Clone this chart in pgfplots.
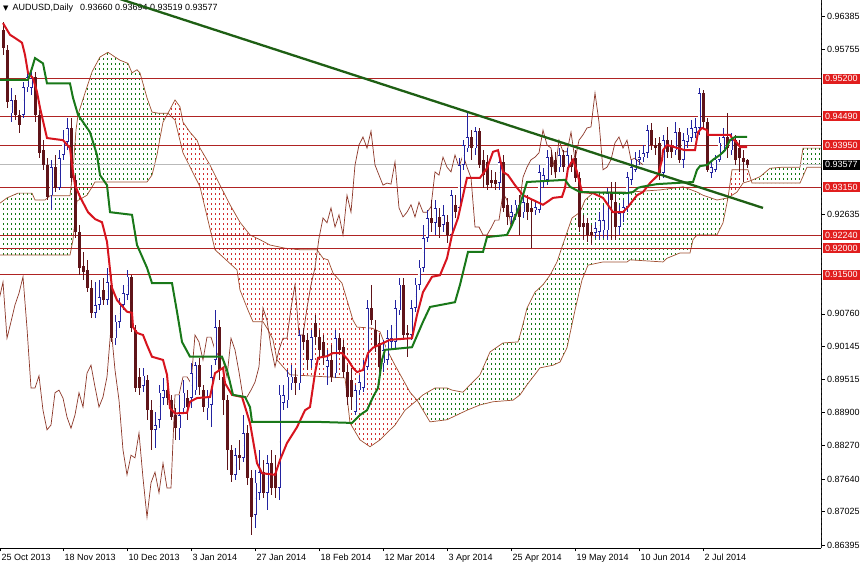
\documentclass[border=0pt]{standalone}
\usepackage{fontspec}
\setmainfont{Liberation Sans}
\newfontfamily\dejavu{DejaVu Sans}
\usepackage{pgfplots}
\usepackage{pgfplotstable}
\pgfplotsset{compat=1.18}

\definecolor{tenkan}{RGB}{215,20,30}
\definecolor{kijun}{RGB}{25,120,25}
\definecolor{trend}{RGB}{30,95,20}
\definecolor{spanc}{RGB}{160,80,50}
\definecolor{chikou}{RGB}{140,55,40}
\definecolor{hline}{RGB}{175,35,35}
\definecolor{boxred}{RGB}{225,30,30}
\definecolor{bullc}{RGB}{35,35,160}
\definecolor{bearc}{RGB}{95,20,25}
\definecolor{cloudg}{RGB}{20,120,20}
\definecolor{cloudr}{RGB}{210,45,45}

\newcommand{\lbl}{\fontsize{9bp}{10bp}\selectfont}

\pgfplotstableread{
i o h l c
0 0.9612 0.9627 0.9565 0.9578
1 0.9574 0.9584 0.9465 0.9476
2 0.9455 0.9503 0.9438 0.9480
3 0.9480 0.9489 0.9442 0.9452
4 0.9452 0.9461 0.9418 0.9433
5 0.9452 0.9514 0.9446 0.9504
6 0.9504 0.9531 0.9495 0.9523
7 0.9503 0.9537 0.9489 0.9521
8 0.9523 0.9533 0.9438 0.9452
9 0.9452 0.9461 0.9370 0.9380
10 0.9385 0.9404 0.9348 0.9357
11 0.9357 0.9370 0.9291 0.9297
12 0.9300 0.9367 0.9272 0.9353
13 0.9353 0.9376 0.9306 0.9314
14 0.9314 0.9385 0.9310 0.9370
15 0.9376 0.9423 0.9367 0.9401
16 0.9401 0.9446 0.9385 0.9427
17 0.9427 0.9446 0.9325 0.9333
18 0.9329 0.9338 0.9219 0.9231
19 0.9231 0.9244 0.9149 0.9163
20 0.9166 0.9193 0.9140 0.9155
21 0.9159 0.9178 0.9117 0.9125
22 0.9125 0.9140 0.9068 0.9078
23 0.9078 0.9136 0.9068 0.9093
24 0.9093 0.9140 0.9083 0.9108
25 0.9121 0.9144 0.9093 0.9102
26 0.9102 0.9163 0.9093 0.9136
27 0.9131 0.9149 0.9023 0.9030
28 0.9030 0.9074 0.9017 0.9061
29 0.9061 0.9106 0.9049 0.9093
30 0.9093 0.9131 0.9083 0.9115
31 0.9112 0.9159 0.9102 0.9146
32 0.9146 0.9149 0.9042 0.9049
33 0.9046 0.9055 0.8928 0.8936
34 0.8957 0.8974 0.8923 0.8936
35 0.8940 0.8974 0.8928 0.8959
36 0.8951 0.8961 0.8876 0.8894
37 0.8894 0.8913 0.8819 0.8857
38 0.8857 0.8891 0.8823 0.8866
39 0.8876 0.8942 0.8860 0.8927
40 0.8917 0.8955 0.8904 0.8932
41 0.8932 0.8947 0.8904 0.8917
42 0.8913 0.8923 0.8876 0.8881
43 0.8885 0.8898 0.8838 0.8860
44 0.8860 0.8923 0.8838 0.8885
45 0.8898 0.8951 0.8891 0.8927
46 0.8917 0.8932 0.8876 0.8900
47 0.8917 0.8983 0.8898 0.8964
48 0.8932 0.8985 0.8923 0.8979
49 0.8979 0.8993 0.8923 0.8938
50 0.8932 0.8942 0.8891 0.8900
51 0.8898 0.8932 0.8876 0.8919
52 0.8904 0.8979 0.8862 0.8957
53 0.8989 0.9083 0.8979 0.9051
54 0.9051 0.9064 0.8951 0.8970
55 0.8957 0.8970 0.8885 0.8913
56 0.8913 0.8923 0.8781 0.8819
57 0.8819 0.8828 0.8758 0.8772
58 0.8772 0.8823 0.8762 0.8809
59 0.8809 0.8838 0.8781 0.8804
60 0.8804 0.8885 0.8796 0.8851
61 0.8851 0.8866 0.8753 0.8766
62 0.8766 0.8781 0.8658 0.8692
63 0.8696 0.8781 0.8672 0.8757
64 0.8738 0.8819 0.8725 0.8777
65 0.8777 0.8800 0.8728 0.8738
66 0.8738 0.8809 0.8706 0.8794
67 0.8794 0.8819 0.8734 0.8747
68 0.8775 0.8809 0.8728 0.8747
69 0.8747 0.8942 0.8725 0.8923
70 0.8908 0.8942 0.8894 0.8923
71 0.8913 0.8970 0.8898 0.8957
72 0.8945 0.8979 0.8932 0.8957
73 0.8957 0.8970 0.8923 0.8945
74 0.8945 0.9046 0.8932 0.9036
75 0.9036 0.9049 0.9008 0.9023
76 0.9027 0.9040 0.8970 0.8989
77 0.8989 0.9046 0.8974 0.9032
78 0.9059 0.9074 0.9017 0.9032
79 0.9032 0.9046 0.8989 0.9008
80 0.9023 0.9036 0.8979 0.8995
81 0.8976 0.9008 0.8942 0.8989
82 0.8989 0.9017 0.8947 0.8957
83 0.8964 0.9046 0.8955 0.9030
84 0.9030 0.9040 0.8998 0.9008
85 0.9013 0.9027 0.8955 0.8966
86 0.8966 0.8979 0.8904 0.8919
87 0.8951 0.8974 0.8894 0.8919
88 0.8891 0.8942 0.8885 0.8932
89 0.8932 0.8961 0.8923 0.8947
90 0.8936 0.8989 0.8928 0.8976
91 0.8976 0.9102 0.8970 0.9087
92 0.9087 0.9131 0.9055 0.9064
93 0.9046 0.9064 0.9004 0.9013
94 0.9021 0.9036 0.8966 0.8976
95 0.8983 0.9027 0.8966 0.9008
96 0.8989 0.9046 0.8979 0.9030
97 0.9023 0.9055 0.9008 0.9030
98 0.9023 0.9102 0.9012 0.9087
99 0.9083 0.9144 0.9074 0.9131
100 0.9131 0.9144 0.9027 0.9036
101 0.9040 0.9055 0.8995 0.9036
102 0.9036 0.9102 0.9027 0.9087
103 0.9087 0.9144 0.9080 0.9131
104 0.9131 0.9178 0.9121 0.9163
105 0.9163 0.9244 0.9155 0.9219
106 0.9219 0.9272 0.9212 0.9257
107 0.9257 0.9291 0.9231 0.9248
108 0.9248 0.9291 0.9225 0.9276
109 0.9259 0.9276 0.9219 0.9240
110 0.9244 0.9282 0.9231 0.9263
111 0.9249 0.9263 0.9210 0.9225
112 0.9225 0.9310 0.9216 0.9300
113 0.9282 0.9300 0.9257 0.9268
114 0.9276 0.9370 0.9268 0.9357
115 0.9357 0.9404 0.9348 0.9395
116 0.9389 0.9457 0.9382 0.9410
117 0.9410 0.9423 0.9367 0.9389
118 0.9389 0.9429 0.9376 0.9421
119 0.9421 0.9427 0.9351 0.9357
120 0.9367 0.9385 0.9314 0.9338
121 0.9363 0.9376 0.9310 0.9319
122 0.9329 0.9348 0.9314 0.9323
123 0.9329 0.9344 0.9310 0.9321
124 0.9323 0.9376 0.9310 0.9363
125 0.9363 0.9376 0.9268 0.9276
126 0.9282 0.9295 0.9244 0.9259
127 0.9259 0.9282 0.9244 0.9268
128 0.9263 0.9291 0.9253 0.9282
129 0.9282 0.9300 0.9225 0.9259
130 0.9268 0.9306 0.9257 0.9287
131 0.9285 0.9300 0.9253 0.9268
132 0.9276 0.9291 0.9200 0.9268
133 0.9272 0.9291 0.9263 0.9278
134 0.9272 0.9357 0.9266 0.9344
135 0.9325 0.9351 0.9314 0.9338
136 0.9329 0.9385 0.9319 0.9372
137 0.9372 0.9385 0.9338 0.9353
138 0.9367 0.9382 0.9333 0.9344
139 0.9353 0.9389 0.9344 0.9376
140 0.9376 0.9385 0.9344 0.9353
141 0.9353 0.9389 0.9348 0.9376
142 0.9363 0.9376 0.9344 0.9353
143 0.9370 0.9385 0.9325 0.9333
144 0.9333 0.9344 0.9231 0.9240
145 0.9248 0.9263 0.9216 0.9240
146 0.9248 0.9257 0.9212 0.9225
147 0.9231 0.9244 0.9206 0.9225
148 0.9229 0.9249 0.9219 0.9238
149 0.9231 0.9268 0.9216 0.9253
150 0.9234 0.9282 0.9219 0.9253
151 0.9234 0.9314 0.9216 0.9304
152 0.9306 0.9325 0.9216 0.9291
153 0.9287 0.9325 0.9216 0.9240
154 0.9240 0.9282 0.9225 0.9266
155 0.9266 0.9291 0.9249 0.9278
156 0.9278 0.9344 0.9268 0.9334
157 0.9329 0.9367 0.9319 0.9353
158 0.9348 0.9382 0.9344 0.9367
159 0.9367 0.9385 0.9357 0.9372
160 0.9372 0.9395 0.9363 0.9380
161 0.9380 0.9433 0.9370 0.9423
162 0.9423 0.9436 0.9385 0.9395
163 0.9395 0.9408 0.9376 0.9389
164 0.9399 0.9410 0.9329 0.9342
165 0.9342 0.9414 0.9333 0.9404
166 0.9404 0.9429 0.9370 0.9382
167 0.9391 0.9404 0.9370 0.9382
168 0.9385 0.9438 0.9376 0.9419
169 0.9419 0.9427 0.9361 0.9367
170 0.9367 0.9418 0.9351 0.9404
171 0.9401 0.9427 0.9389 0.9414
172 0.9408 0.9442 0.9401 0.9427
173 0.9418 0.9446 0.9408 0.9429
174 0.9427 0.9503 0.9414 0.9493
175 0.9493 0.9499 0.9427 0.9438
176 0.9438 0.9446 0.9344 0.9348
177 0.9342 0.9367 0.9333 0.9353
178 0.9348 0.9376 0.9344 0.9367
179 0.9367 0.9410 0.9363 0.9399
180 0.9385 0.9427 0.9382 0.9410
181 0.9410 0.9455 0.9370 0.9389
182 0.9385 0.9418 0.9376 0.9404
183 0.9404 0.9414 0.9357 0.9367
184 0.9389 0.9404 0.9344 0.9370
185 0.9370 0.9385 0.9325 0.9363
186 0.93660 0.93694 0.93519 0.93577
}\candles

\pgfplotstableread{
i p
0 0.9625
1.75 0.9603
3 0.9597
4.75 0.9588
5.5 0.9565
6.25 0.9531
7.5 0.9521
8.5 0.9495
9.25 0.9465
11 0.9408
15 0.9404
16.75 0.9389
17.25 0.9357
18 0.9319
19.25 0.9297
21.25 0.9268
23 0.9255
24.75 0.9249
26 0.9212
27.25 0.9125
28.5 0.9102
31 0.9080
32.25 0.9078
32.5 0.9051
33.5 0.9040
35 0.9036
36 0.9017
37.25 0.8995
40 0.8989
41 0.8961
41.75 0.8898
43 0.8888
46 0.8889
46.75 0.8910
48.5 0.8917
51.75 0.8919
53 0.8964
55 0.8974
55.5 0.8945
57.25 0.8923
59.75 0.8919
61.75 0.8870
63.5 0.8794
64.75 0.8775
68 0.8772
69.25 0.8800
71 0.8832
73.5 0.8862
75.5 0.8894
76.75 0.8900
78 0.8964
78.75 0.8993
81 0.8996
82.5 0.9002
84.75 0.9002
86.25 0.8989
87.5 0.8974
88.5 0.8966
90 0.8970
91.25 0.9002
92.5 0.9012
96.75 0.9027
102.25 0.9030
103.5 0.9074
105 0.9117
107.25 0.9146
109.25 0.9149
111 0.9181
112.25 0.9225
113.75 0.9257
116 0.9333
119.25 0.9333
121 0.9351
122.5 0.9382
123.75 0.9385
125 0.9344
126.25 0.9338
128 0.9319
130 0.9300
132.5 0.9291
135 0.9282
136 0.9287
137.5 0.9295
139.75 0.9297
140.5 0.9314
141.25 0.9351
142.5 0.9367
143.5 0.9344
144.75 0.9306
147.5 0.9304
150 0.9295
152.5 0.9268
155 0.9268
156.25 0.9278
158.5 0.9300
160 0.9306
161.75 0.9323
163.75 0.9338
164.75 0.9367
165 0.9385
166 0.9395
170.5 0.9385
173 0.9385
173.5 0.9408
173.75 0.9419
174.75 0.9427
176 0.9423
176.25 0.9414
181.75 0.9414
182.25 0.9408
183.5 0.9399
184.25 0.9391
186 0.9391
}\tenkan

\pgfplotstableread{
i p
-0.75 0.9518
6.25 0.9518
7.25 0.9540
8 0.9559
10 0.9549
11 0.9511
16.75 0.9511
17.5 0.9484
18.75 0.9452
21.75 0.9419
23.5 0.9376
24.25 0.9338
26 0.9319
26.75 0.9268
32.25 0.9263
33.5 0.9206
36 0.9163
37.25 0.9134
42.25 0.9134
43.5 0.9080
44.75 0.9023
46.75 0.8995
54.75 0.8995
56 0.8970
57.5 0.8923
60.5 0.8919
61.75 0.8900
62.25 0.8872
78.5 0.8872
87.25 0.8870
89.25 0.8885
91 0.8894
92.5 0.8919
93.75 0.8936
94.75 0.8989
95.5 0.9008
102.25 0.9013
105 0.9061
106.75 0.9089
113 0.9098
114.25 0.9131
116.25 0.9193
120 0.9193
121 0.9221
126 0.9225
127.25 0.9244
129.25 0.9282
131 0.9325
140.5 0.9329
141.75 0.9316
144.25 0.9306
156 0.9304
157.5 0.9306
158.75 0.9314
159.75 0.9316
163.5 0.9321
172.5 0.9325
173.5 0.9348
174.25 0.9355
176 0.9357
177.5 0.9367
179.25 0.9376
180.5 0.9385
181.75 0.9404
183 0.9410
186 0.9410
}\kijun

\pgfplotstableread{
i p
-0.75 0.9285
1 0.9295
3.75 0.9304
7.25 0.9304
8 0.9291
10.5 0.9291
11.75 0.9299
16.75 0.9299
17.5 0.9348
18.25 0.9423
18.75 0.9452
20.5 0.9493
22.25 0.9533
24.25 0.9561
26.25 0.9570
28 0.9561
29.25 0.9555
31.25 0.9549
32.25 0.9531
33.5 0.9537
34.25 0.9531
36 0.9484
37.25 0.9457
38.75 0.9455
41.25 0.9455
43 0.9442
45 0.9380
49.25 0.9316
53 0.9197
58.5 0.9159
59.25 0.9121
61.25 0.9083
62.5 0.9061
65 0.9061
66.25 0.9046
67.5 0.9027
68.5 0.8989
71.75 0.8961
85.5 0.8955
86.75 0.8870
89.25 0.8838
91.75 0.8825
94.25 0.8838
98 0.8866
100.5 0.8894
103.5 0.8913
105 0.8923
108 0.8936
111 0.8936
112.25 0.8932
115 0.8928
116.75 0.8942
119.25 0.8961
121.75 0.9004
125 0.9021
128.75 0.9023
129.75 0.9049
131 0.9087
133 0.9117
135 0.9131
136.75 0.9149
138.5 0.9174
140.5 0.9219
142.25 0.9257
144.25 0.9268
145.5 0.9291
147.5 0.9304
150 0.9306
156.75 0.9306
164.25 0.9310
170 0.9316
173.5 0.9306
175 0.9300
178.5 0.9291
181.25 0.9295
183.5 0.9306
185 0.9323
186.75 0.9327
189.25 0.9335
191.75 0.9351
195 0.9353
199.25 0.9353
200 0.9389
204.5 0.9389
}\spanA

\pgfplotstableread{
i p
-0.75 0.9187
16.75 0.9187
17.5 0.9216
18.5 0.9289
21 0.9300
23 0.9325
36 0.9325
37.25 0.9338
38.5 0.9376
39.25 0.9408
40 0.9438
41.25 0.9455
43 0.9480
44.25 0.9467
45 0.9438
46.75 0.9419
48.5 0.9404
49.25 0.9389
51.75 0.9357
54.25 0.9319
56.75 0.9282
59.25 0.9249
61.75 0.9225
64.25 0.9216
66.75 0.9206
70.5 0.9200
74.25 0.9197
78.5 0.9197
80 0.9181
81.25 0.9178
82.5 0.9153
84.75 0.9134
86 0.9102
87.5 0.9064
88.5 0.9051
92.25 0.9049
94.25 0.9042
96 0.9008
98 0.8979
101.75 0.8928
103.5 0.8913
106.75 0.8872
111 0.8876
116 0.8894
119.25 0.8904
122.5 0.8910
127.5 0.8913
129.25 0.8923
131 0.8942
134.25 0.8974
137.5 0.8979
139.25 0.8985
141 0.9012
143 0.9083
144.75 0.9140
146.25 0.9168
150 0.9174
156 0.9174
156.75 0.9178
165 0.9174
166 0.9181
169.25 0.9191
171.75 0.9191
172.5 0.9216
173.5 0.9225
178.5 0.9225
180 0.9248
181.25 0.9295
182.25 0.9348
186.25 0.9348
187.25 0.9323
199.25 0.9323
201 0.9353
204.5 0.9353
}\spanB

\pgfplotsset{cndl/.style={only marks, mark=*, mark size=0pt, mark options={draw=none, fill=none},
  error bars/.cd, y dir=both, y explicit, error mark=none}}

\begin{document}
\begin{tikzpicture}
\begin{axis}[
  scale only axis, width=821bp, height=548bp,
  xmin=-0.75, xmax=204.5, ymin=0.86338, ymax=0.96687,
  axis x line=bottom, axis y line=right,
  axis line style={-, black, line width=0.8bp},
  tick align=outside, major tick length=3.5bp,
  tick style={black, line width=0.6bp},
  xtick={-0.75,15,31,47,63,79,95,111,127,143,159,175},
  xticklabels={25 Oct 2013,18 Nov 2013,10 Dec 2013,3 Jan 2014,27 Jan 2014,18 Feb 2014,12 Mar 2014,3 Apr 2014,25 Apr 2014,19 May 2014,10 Jun 2014,2 Jul 2014},
  xticklabel style={anchor=north west, inner sep=0pt, xshift=1.5bp, yshift=-2.5bp, font=\lbl},
  ytick={0.86395,0.87025,0.8764,0.8827,0.889,0.89515,0.90145,0.9076,0.92635,0.95755,0.96385},
  yticklabels={0.86395,0.87025,0.87640,0.88270,0.88900,0.89515,0.90145,0.90760,0.92635,0.95755,0.96385},
  yticklabel style={anchor=west, inner sep=0pt, xshift=2.5bp, font=\lbl},
  clip=true,
]
% cloud regions: Senkou span A forward, span B back
\addplot[color=cloudg, fill=cloudg, draw=none, mark=none] coordinates {
 (-0.75,0.9285) (1,0.9295) (3.75,0.9304) (7.25,0.9304) (8,0.9291) (10.5,0.9291) (11.75,0.9299) (16.75,0.9299) (17.5,0.9348) (18.25,0.9423) (18.75,0.9452) (20.5,0.9493) (22.25,0.9533) (24.25,0.9561) (26.25,0.9570) (28,0.9561) (29.25,0.9555) (31.25,0.9549) (32.25,0.9531) (33.5,0.9537) (34.25,0.9531) (36,0.9484) (37.25,0.9457) (38.75,0.9455) (41.25,0.9455)
 (40,0.9438) (39.25,0.9408) (38.5,0.9376) (37.25,0.9338) (36,0.9325) (23,0.9325) (21,0.9300) (18.5,0.9289) (17.5,0.9216) (16.75,0.9187) (-0.75,0.9187)} -- cycle;
\addplot[color=cloudr, fill=cloudr, draw=none, mark=none] coordinates {
 (41.25,0.9455) (43,0.9442) (45,0.9380) (49.25,0.9316) (53,0.9197) (58.5,0.9159) (59.25,0.9121) (61.25,0.9083) (62.5,0.9061) (65,0.9061) (66.25,0.9046) (67.5,0.9027) (68.5,0.8989) (71.75,0.8961) (85.5,0.8955) (86.75,0.8870) (89.25,0.8838) (91.75,0.8825) (94.25,0.8838) (98,0.8866) (100.5,0.8894) (103.5,0.8913)
 (101.75,0.8928) (98,0.8979) (96,0.9008) (94.25,0.9042) (92.25,0.9049) (88.5,0.9051) (87.5,0.9064) (86,0.9102) (84.75,0.9134) (82.5,0.9153) (81.25,0.9178) (80,0.9181) (78.5,0.9197) (74.25,0.9197) (70.5,0.9200) (66.75,0.9206) (64.25,0.9216) (61.75,0.9225) (59.25,0.9249) (56.75,0.9282) (54.25,0.9319) (51.75,0.9357) (49.25,0.9389) (48.5,0.9404) (46.75,0.9419) (45,0.9438) (44.25,0.9467) (43,0.9480)} -- cycle;
\addplot[color=cloudg, fill=cloudg, draw=none, mark=none] coordinates {
 (103.5,0.8913) (105,0.8923) (108,0.8936) (111,0.8936) (112.25,0.8932) (115,0.8928) (116.75,0.8942) (119.25,0.8961) (121.75,0.9004) (125,0.9021) (128.75,0.9023) (129.75,0.9049) (131,0.9087) (133,0.9117) (135,0.9131) (136.75,0.9149) (138.5,0.9174) (140.5,0.9219) (142.25,0.9257) (144.25,0.9268) (145.5,0.9291) (147.5,0.9304) (150,0.9306) (156.75,0.9306) (164.25,0.9310) (170,0.9316) (173.5,0.9306) (175,0.9300) (178.5,0.9291) (181.25,0.9295)
 (180,0.9248) (178.5,0.9225) (173.5,0.9225) (172.5,0.9216) (171.75,0.9191) (169.25,0.9191) (166,0.9181) (165,0.9174) (156.75,0.9178) (156,0.9174) (150,0.9174) (146.25,0.9168) (144.75,0.9140) (143,0.9083) (141,0.9012) (139.25,0.8985) (137.5,0.8979) (134.25,0.8974) (131,0.8942) (129.25,0.8923) (127.5,0.8913) (122.5,0.8910) (119.25,0.8904) (116,0.8894) (111,0.8876) (106.75,0.8872)} -- cycle;
\addplot[color=cloudr, fill=cloudr, draw=none, mark=none] coordinates {
 (181.25,0.9295) (183.5,0.9306) (185,0.9323) (186.75,0.9327) (187.05,0.9328) (186.25,0.9348) (182.25,0.9348)} -- cycle;
\addplot[color=cloudg, fill=cloudg, draw=none, mark=none] coordinates {
 (187.05,0.9328) (189.25,0.9335) (191.75,0.9351) (195,0.9353) (199.25,0.9353) (200,0.9389) (204.5,0.9389)
 (204.5,0.9353) (201,0.9353) (199.25,0.9323) (187.25,0.9323)} -- cycle;
% hatch mask: white stripes leave small vertical dashes of the cloud colour
\draw[white, line width=560bp, dash pattern=on 3bp off 1bp] (rel axis cs:0,0.5) -- (rel axis cs:1,0.5);
\draw[white, line width=830bp, dash pattern=on 3bp off 2bp] (rel axis cs:0.5,1) -- (rel axis cs:0.5,0);
% cloud edges
\addplot[spanc, line width=0.7bp, mark=none] table[x=i,y=p]{\spanA};
\addplot[spanc, line width=0.7bp, mark=none] table[x=i,y=p]{\spanB};
% horizontal levels
\addplot[gray!55, line width=0.6bp, mark=none] coordinates {(-1,0.93577) (205,0.93577)};
\addplot[hline, line width=0.8bp, mark=none] coordinates {(-1,0.952) (205,0.952)};
\addplot[hline, line width=0.8bp, mark=none] coordinates {(-1,0.9449) (205,0.9449)};
\addplot[hline, line width=0.8bp, mark=none] coordinates {(-1,0.9395) (205,0.9395)};
\addplot[hline, line width=0.8bp, mark=none] coordinates {(-1,0.9315) (205,0.9315)};
\addplot[hline, line width=0.8bp, mark=none] coordinates {(-1,0.9224) (205,0.9224)};
\addplot[hline, line width=0.8bp, mark=none] coordinates {(-1,0.92) (205,0.92)};
\addplot[hline, line width=0.8bp, mark=none] coordinates {(-1,0.915) (205,0.915)};
% chikou
\addplot[chikou, line width=0.7bp, mark=none] table[x expr=\thisrow{i}-26, y=c]{\candles};
% wicks
\addplot[cndl, error bar style={line width=1bp, bullc}]
  table[x=i, y expr={(\thisrow{h}+\thisrow{l})/2}, y error expr={(\thisrow{c}>=\thisrow{o})*(\thisrow{h}-\thisrow{l})/2}]{\candles};
\addplot[cndl, error bar style={line width=1bp, bearc}]
  table[x=i, y expr={(\thisrow{h}+\thisrow{l})/2}, y error expr={(\thisrow{c}<\thisrow{o})*(\thisrow{h}-\thisrow{l})/2}]{\candles};
% bodies
\addplot[cndl, error bar style={line width=3bp, bullc}]
  table[x=i, y expr={(\thisrow{o}+\thisrow{c})/2}, y error expr={(\thisrow{c}>=\thisrow{o})*(\thisrow{c}-\thisrow{o})/2}]{\candles};
\addplot[cndl, error bar style={line width=1.1bp, white}]
  table[x=i, y expr={(\thisrow{o}+\thisrow{c})/2}, y error expr={(\thisrow{c}>=\thisrow{o})*max((\thisrow{c}-\thisrow{o})/2-0.00012,0)}]{\candles};
\addplot[cndl, error bar style={line width=3bp, bearc}]
  table[x=i, y expr={(\thisrow{o}+\thisrow{c})/2}, y error expr={(\thisrow{c}<\thisrow{o})*(\thisrow{o}-\thisrow{c})/2}]{\candles};
% tenkan / kijun
\addplot[tenkan, line width=2bp, mark=none] table[x=i,y=p]{\tenkan};
\addplot[kijun, line width=2bp, mark=none] table[x=i,y=p]{\kijun};
% title
\node[anchor=west, inner sep=0pt, font=\lbl, xshift=3bp, yshift=-8bp] at (rel axis cs:0,1)
  {{\dejavu\fontsize{7bp}{8bp}\selectfont ▼}\hspace{4bp}AUDUSD,Daily\hspace{7bp}0.93660 0.93694 0.93519 0.93577};
% trend line
\addplot[trend, line width=2.3bp, mark=none] coordinates {(25,0.9681) (190,0.9276)};
\fill[gray!60!black] (axis cs:174.75,0.96687) ++(-3bp,0) -- ++(6bp,0) -- ++(-3bp,-6bp) -- cycle;
% label anchors
\coordinate (r1) at (axis cs:204.5,0.952);
\coordinate (r2) at (axis cs:204.5,0.9449);
\coordinate (r3) at (axis cs:204.5,0.9395);
\coordinate (r4) at (axis cs:204.5,0.9315);
\coordinate (r5) at (axis cs:204.5,0.9224);
\coordinate (r6) at (axis cs:204.5,0.92);
\coordinate (r7) at (axis cs:204.5,0.915);
\coordinate (k1) at (axis cs:204.5,0.93577);
\end{axis}
\tikzset{pbox/.style={anchor=west, inner xsep=2.5bp, inner ysep=1bp, minimum height=10bp, font=\lbl, text=white, xshift=1.5bp}}
\foreach \n/\t in {r1/0.95200,r2/0.94490,r3/0.93950,r4/0.93150,r5/0.92240,r6/0.92000,r7/0.91500}
  \node[pbox, fill=boxred] at (\n) {\t};
\node[pbox, fill=black] at (k1) {0.93577};
\pgfresetboundingbox
\path[use as bounding box] (0,-16bp) rectangle (861bp,548bp);
\end{tikzpicture}
\end{document}
